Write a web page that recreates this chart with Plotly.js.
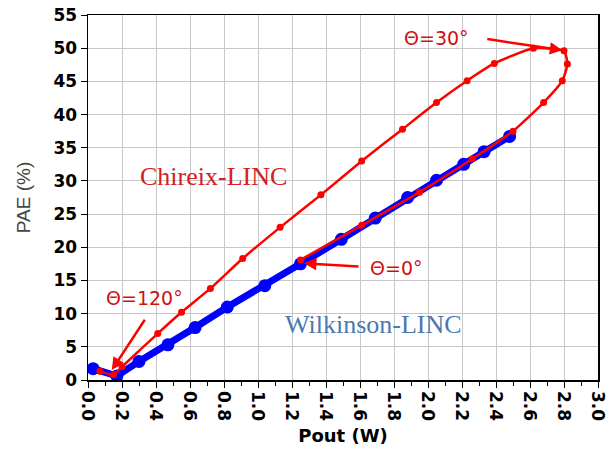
<!DOCTYPE html>
<html><head><meta charset="utf-8">
<script src="https://cdn.plot.ly/plotly-3.0.1.min.js"></script>
<style>html,body{margin:0;padding:0;background:#fff}#plot{width:610px;height:460px}</style>
</head><body><div id="plot"></div>
<script>
// Wilkinson-LINC (blue)
const wilkPout = [0.03, 0.17, 0.30, 0.47, 0.63, 0.82, 1.04, 1.25, 1.49, 1.69, 1.88, 2.05, 2.21, 2.33, 2.48];
const wilkPAE  = [1.7, 0.6, 2.8, 5.3, 7.9, 11.0, 14.2, 17.5, 21.2, 24.4, 27.5, 30.1, 32.5, 34.4, 36.7];
// Chireix-LINC (red), theta sweep from 0 deg
const chirPout = [1.25, 1.61, 1.95, 2.26, 2.50, 2.68, 2.79, 2.82, 2.80, 2.62, 2.39, 2.23, 2.05, 1.85, 1.61, 1.37, 1.13, 0.91, 0.72, 0.55, 0.41, 0.20, 0.15, 0.07];
const chirPAE  = [18.1, 23.3, 28.3, 33.3, 37.5, 41.8, 45.1, 47.6, 49.6, 50.0, 47.7, 45.1, 41.8, 37.8, 33.0, 27.9, 23.0, 18.3, 13.8, 10.2, 7.0, 2.0, 0.8, 1.3];
const xTicks = [0.0,0.2,0.4,0.6,0.8,1.0,1.2,1.4,1.6,1.8,2.0,2.2,2.4,2.6,2.8,3.0];
const yTicks = [0,5,10,15,20,25,30,35,40,45,50,55];

const traces = [
  {x: wilkPout, y: wilkPAE, mode: 'lines+markers', type: 'scatter',
   line: {color: '#0000ff', width: 7}, marker: {color: '#0000ff', size: 13}, hoverinfo: 'skip'},
  {x: chirPout, y: chirPAE, mode: 'lines+markers', type: 'scatter',
   line: {color: '#ff0000', width: 2.5, shape: 'spline', smoothing: 0.5}, marker: {color: '#ff0000', size: 7}, hoverinfo: 'skip'}
];
const red = '#d01010';
const thetaFont = {family: 'DejaVu Sans', size: 19, color: red};
const layout = {
  width: 610, height: 460,
  margin: {l: 88, r: 12, t: 15, b: 80},
  paper_bgcolor: '#fff', plot_bgcolor: '#fff',
  showlegend: false,
  xaxis: {range: [0, 3], tickvals: xTicks, ticktext: xTicks.map(v => v.toFixed(1)), tickangle: 90,
    ticks: 'outside', ticklen: 6, tickcolor: '#000', showline: true, linecolor: '#000', linewidth: 1.5, mirror: true,
    showgrid: true, gridcolor: '#c8c8c8', gridwidth: 1, zeroline: false,
    minor: {dtick: 0.1, ticks: 'outside', ticklen: 4, tickcolor: '#000', showgrid: false},
    tickfont: {family: 'DejaVu Sans', size: 17, color: '#000', weight: 'bold'},
    title: {text: 'Pout (W)', font: {family: 'DejaVu Sans', size: 18, color: '#000', weight: 'bold'}, standoff: 9}},
  yaxis: {range: [0, 55], tickvals: yTicks, ticks: 'outside', ticklen: 6, tickcolor: '#000',
    showline: true, linecolor: '#000', linewidth: 1.5, mirror: true,
    showgrid: true, gridcolor: '#c8c8c8', gridwidth: 1, zeroline: false,
    tickfont: {family: 'DejaVu Sans', size: 17, color: '#000', weight: 'bold'},
    title: {text: 'PAE (%)', font: {family: 'Liberation Sans', size: 19, color: '#444'}, standoff: 18}},
  annotations: [
    {x: 0.74, y: 30.7, xref: 'x', yref: 'y', text: 'Chireix-LINC', showarrow: false,
     font: {family: 'Liberation Serif', size: 26, color: '#d42020'}},
    {x: 1.68, y: 8.3, xref: 'x', yref: 'y', text: 'Wilkinson-LINC', showarrow: false,
     font: {family: 'Liberation Serif', size: 26, color: '#4a78b0'}},
    {x: 2.05, y: 51.5, xref: 'x', yref: 'y', text: 'Θ=30°', showarrow: false, font: thetaFont},
    {x: 0.33, y: 12.4, xref: 'x', yref: 'y', text: 'Θ=120°', showarrow: false, font: thetaFont},
    {x: 1.81, y: 16.9, xref: 'x', yref: 'y', text: 'Θ=0°', showarrow: false, font: thetaFont},
    {x: 2.79, y: 49.7, ax: 2.34, ay: 51.4, xref: 'x', yref: 'y', axref: 'x', ayref: 'y', text: '',
     showarrow: true, arrowhead: 2, arrowsize: 1, arrowwidth: 2.5, arrowcolor: '#ff0000'},
    {x: 0.14, y: 1.5, ax: 0.34, ay: 9.3, xref: 'x', yref: 'y', axref: 'x', ayref: 'y', text: '',
     showarrow: true, arrowhead: 2, arrowsize: 1, arrowwidth: 2.5, arrowcolor: '#ff0000'},
    {x: 1.27, y: 17.6, ax: 1.60, ay: 17.1, xref: 'x', yref: 'y', axref: 'x', ayref: 'y', text: '',
     showarrow: true, arrowhead: 2, arrowsize: 1, arrowwidth: 2.5, arrowcolor: '#ff0000'}
  ]
};
Plotly.newPlot('plot', traces, layout, {staticPlot: true, displayModeBar: false});
</script></body></html>
